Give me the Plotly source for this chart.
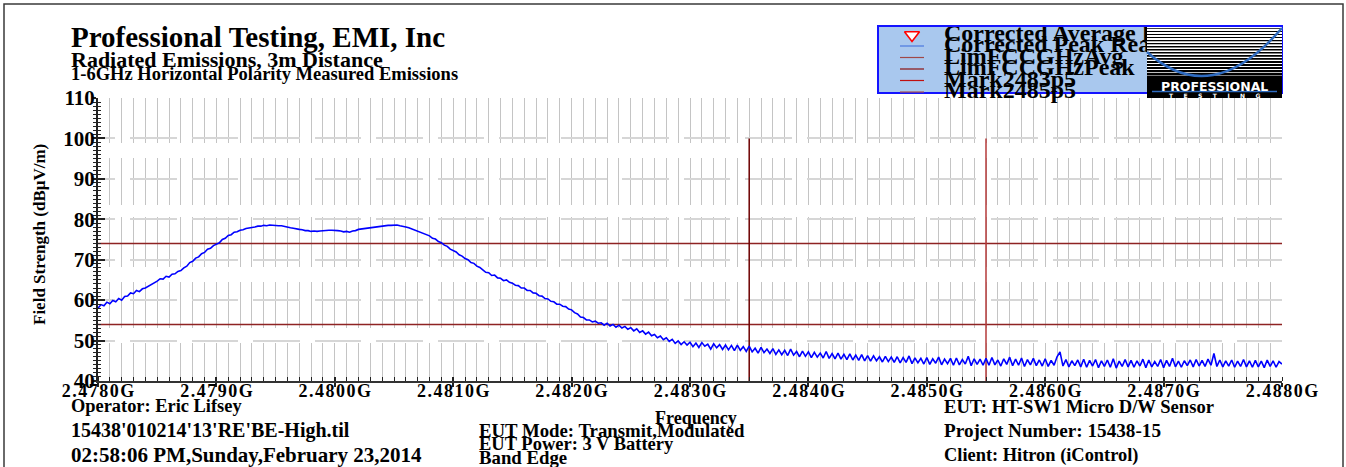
import plotly.graph_objects as go

W, H = 1346, 467

# ---- measured sweep -------------------------------------------------------
FREQ_START_GHZ = 2.4780
FREQ_STOP_GHZ = 2.4880
PEAK_DBUV = [
    58.0, 58.9, 58.6, 59.5, 59.1, 59.9, 59.6, 60.4, 60.0, 60.9,
    61.0, 61.8, 61.6, 62.4, 62.1, 62.8, 63.0, 63.4, 63.8, 64.3,
    64.7, 65.3, 65.2, 65.9, 65.7, 66.4, 66.5, 67.1, 67.3, 68.0,
    68.4, 69.3, 69.6, 70.4, 70.7, 71.5, 71.8, 72.6, 72.8, 73.5,
    73.8, 74.2, 75.0, 75.3, 76.0, 76.2, 76.8, 76.9, 77.3, 77.4,
    77.7, 77.8, 78.0, 78.1, 78.3, 78.3, 78.5, 78.4, 78.6, 78.5,
    78.5, 78.4, 78.4, 78.2, 78.1, 77.9, 77.8, 77.6, 77.5, 77.4,
    77.2, 77.2, 77.0, 77.1, 77.0, 77.1, 77.2, 77.2, 77.3, 77.3,
    77.3, 77.2, 77.1, 76.9, 77.0, 76.8, 77.1, 77.2, 77.5, 77.6,
    77.7, 77.8, 78.0, 78.0, 78.2, 78.2, 78.3, 78.4, 78.5, 78.5,
    78.5, 78.6, 78.4, 78.3, 78.1, 77.9, 77.6, 77.4, 77.1, 76.8,
    76.6, 76.1, 75.9, 75.3, 75.1, 74.5, 74.2, 73.6, 73.3, 72.6,
    72.2, 71.9, 71.2, 70.9, 70.3, 70.0, 69.3, 69.1, 68.4, 68.1,
    67.5, 66.9, 66.8, 66.1, 66.2, 65.5, 65.4, 64.8, 65.0, 64.4,
    64.2, 63.7, 63.6, 63.0, 63.0, 62.4, 62.4, 61.8, 61.7, 61.1,
    61.0, 60.4, 60.3, 59.7, 59.6, 59.0, 59.0, 58.5, 58.4, 57.8,
    57.6, 56.9, 56.6, 55.8, 55.7, 55.1, 55.1, 54.6, 54.8, 54.3,
    54.4, 53.8, 54.3, 53.6, 54.0, 53.3, 53.8, 53.1, 53.5, 52.8,
    53.2, 52.4, 52.9, 52.0, 52.4, 51.6, 52.1, 51.2, 51.5, 50.7,
    51.1, 50.2, 50.7, 49.8, 50.3, 49.3, 49.9, 49.0, 49.7, 48.9,
    49.6, 48.5, 49.4, 48.3, 49.5, 48.6, 49.1, 47.9, 49.2, 48.2,
    49.0, 47.8, 48.9, 47.7, 48.8, 47.5, 48.9, 47.6, 48.5, 47.3,
    48.6, 47.2, 48.1, 46.9, 48.3, 47.0, 47.9, 46.8, 48.0, 46.6,
    47.7, 46.5, 47.6, 46.3, 47.9, 46.4, 47.3, 46.0, 47.4, 46.1,
    47.2, 45.8, 47.1, 45.9, 46.9, 45.7, 47.3, 45.6, 46.8, 45.5,
    46.9, 45.4, 46.6, 45.3, 46.7, 45.2, 46.4, 45.1, 46.5, 45.0,
    46.3, 44.9, 46.2, 45.0, 46.0, 44.7, 46.1, 44.8, 45.9, 44.6,
    46.0, 44.5, 45.8, 44.6, 46.2, 44.3, 45.7, 44.5, 45.6, 44.2,
    45.8, 44.1, 45.5, 44.4, 45.9, 44.0, 45.4, 44.3, 45.6, 43.9,
    45.7, 44.0, 45.3, 44.2, 46.1, 43.8, 45.5, 44.1, 45.4, 43.9,
    45.6, 43.9, 45.8, 44.0, 45.2, 43.7, 45.5, 44.1, 45.9, 43.8,
    45.4, 43.9, 45.7, 43.6, 45.3, 44.0, 45.6, 43.8, 45.2, 43.7,
    45.5, 43.6, 45.1, 43.9, 46.0, 47.2, 43.7, 45.3, 43.5, 45.0,
    43.8, 45.2, 43.5, 45.4, 43.4, 45.1, 43.7, 45.3, 43.3, 45.0,
    43.6, 45.2, 43.4, 45.5, 43.2, 44.9, 43.6, 45.3, 43.5, 45.1,
    43.4, 45.0, 43.7, 45.4, 43.3, 45.2, 43.5, 44.8, 43.6, 45.3,
    43.3, 45.1, 43.6, 45.6, 43.5, 44.9, 43.4, 45.0, 43.8, 45.2,
    43.5, 45.3, 43.7, 45.1, 43.6, 45.4, 43.9, 46.8, 43.6, 45.2,
    43.5, 45.0, 43.7, 45.2, 43.4, 44.9, 43.6, 45.3, 43.5, 45.0,
    43.4, 45.1, 43.5, 44.9, 43.3, 45.2, 43.6, 45.0, 43.4, 44.8,
    44.2,
]

LIMIT_NAMES = ["LimFCCGHzAvg", "LimFCCGHzPeak"]
LIMIT_LEVELS = [54, 74]
LIMIT_COLORS = ["#8e2323", "#8e2323"]

MARKER_NAMES = ["Mark2483p5", "Mark2485p5"]
MARKER_FREQS = [2.4835, 2.4855]
MARKER_TOP = 100
MARKER_COLORS = ["#6e0000", "#b53a3a"]

SERIES_NAMES = ["Corrected Average Readings", "Corrected Peak Readings"]

X_TICKS = [2.4780, 2.4790, 2.4800, 2.4810, 2.4820, 2.4830,
           2.4840, 2.4850, 2.4860, 2.4870, 2.4880]
X_TICK_TEXT = ["2.4780G", "2.4790G", "2.4800G", "2.4810G", "2.4820G", "2.4830G",
               "2.4840G", "2.4850G", "2.4860G", "2.4870G", "2.4880G"]
Y_TICKS = [40, 50, 60, 70, 80, 90, 100, 110]

Y_MIN, Y_MAX = 40, 110

# ---- page geometry (pixels) ----------------------------------------------
PLOT_L, PLOT_R, PLOT_T, PLOT_B = 98, 1282, 98, 381
SERIF = "Liberation Serif"


def px(x):
    return x / W


def py(y):
    return 1 - y / H


n = len(PEAK_DBUV)
freqs = [FREQ_START_GHZ + (FREQ_STOP_GHZ - FREQ_START_GHZ) * i / (n - 1) for i in range(n)]

fig = go.Figure()

# limit lines
for name, lvl, col in zip(LIMIT_NAMES, LIMIT_LEVELS, LIMIT_COLORS):
    fig.add_trace(go.Scatter(x=[FREQ_START_GHZ, FREQ_STOP_GHZ], y=[lvl, lvl], mode="lines",
                             line=dict(color=col, width=1.5), name=name, hoverinfo="skip"))

# marker lines
for name, f, col in zip(MARKER_NAMES, MARKER_FREQS, MARKER_COLORS):
    fig.add_trace(go.Scatter(x=[f, f], y=[MARKER_TOP, Y_MIN], mode="lines",
                             line=dict(color=col, width=1.5), name=name, hoverinfo="skip"))

# peak sweep
fig.add_trace(go.Scatter(x=freqs, y=PEAK_DBUV, mode="lines", name=SERIES_NAMES[1],
                         line=dict(color="#0000ff", width=1.6)))

# second axis pair carries the inward ticks
fig.add_trace(go.Scatter(x=[FREQ_START_GHZ], y=[Y_MIN], xaxis="x2", yaxis="y2", mode="markers",
                         marker=dict(opacity=0), hoverinfo="skip", showlegend=False))

# ---- legend block (own clipped subplot) ---------------------------------
LEG_ROWS = [35, 46, 57.5, 69, 80.5, 92]
LEG_SYMBOL_X = 912
LEG_TEXT_X = 944
legend_names = SERIES_NAMES + LIMIT_NAMES + MARKER_NAMES
legend_line_colors = [None, "#4a78e0", "#a04848", "#8b1010", "#c01010", "#a85050"]

fig.add_trace(go.Scatter(x=[LEG_SYMBOL_X], y=[LEG_ROWS[0]], xaxis="x3", yaxis="y3", mode="markers",
                         marker=dict(symbol="triangle-down", size=13, color="white",
                                     line=dict(color="#ff0000", width=1.6)),
                         hoverinfo="skip", cliponaxis=False))
for row, col in zip(LEG_ROWS[1:], legend_line_colors[1:]):
    fig.add_trace(go.Scatter(x=[LEG_SYMBOL_X - 12, LEG_SYMBOL_X + 12], y=[row, row], xaxis="x3", yaxis="y3",
                             mode="lines", line=dict(color=col, width=1.2), hoverinfo="skip"))
fig.add_trace(go.Scatter(x=[LEG_TEXT_X] * len(legend_names), y=LEG_ROWS, xaxis="x3", yaxis="y3",
                         mode="text", text=legend_names, textposition="middle right",
                         textfont=dict(family=SERIF, size=24, color="black", weight="bold"),
                         cliponaxis=True, hoverinfo="skip"))

# ---- axes ------------------------------------------------------------------
VDASH = "45px,15px,47px,12px,50px,15px,46px,15px,60px,1px"
HDASH = "17px,15px," + ",".join(["46.5px,15px"] * 20)
HS = "\u200a"

fig.update_layout(
    width=W, height=H, autosize=False,
    margin=dict(l=0, r=0, t=0, b=0, pad=0, autoexpand=False),
    paper_bgcolor="white", plot_bgcolor="rgba(0,0,0,0)",
    showlegend=False,
    xaxis=dict(
        domain=[px(PLOT_L), px(PLOT_R)], range=[FREQ_START_GHZ, FREQ_STOP_GHZ], anchor="y",
        tickmode="array", tickvals=X_TICKS, ticktext=[HS.join(t) for t in X_TICK_TEXT],
        tickfont=dict(family=SERIF, size=18, color="black", weight="bold"),
        ticklabelstandoff=-12,
        ticks="outside", ticklen=4, tickwidth=1.5, tickcolor="#222",
        showline=True, linecolor="#333", linewidth=2, zeroline=False,
        showgrid=True, gridcolor="#c4c4c4", gridwidth=1, griddash=VDASH,
        minor=dict(tickmode="linear", tick0=FREQ_START_GHZ, dtick=0.0001, ticks="inside", ticklen=4,
                   tickwidth=1, tickcolor="#222", showgrid=True, gridcolor="#c4c4c4",
                   gridwidth=1, griddash=VDASH),
    ),
    yaxis=dict(
        domain=[py(PLOT_B), py(PLOT_T)], range=[Y_MIN, Y_MAX], anchor="x",
        tickmode="array", tickvals=Y_TICKS,
        tickfont=dict(family=SERIF, size=21, color="black", weight="bold"),
        ticklabelstandoff=-6,
        ticks="outside", ticklen=3, tickwidth=1.5, tickcolor="#222",
        showline=True, linecolor="#222", linewidth=2, zeroline=False,
        showgrid=True, gridcolor="#d6d6d6", gridwidth=2, griddash=HDASH,
        minor=dict(tickmode="linear", tick0=Y_MIN, dtick=1, ticks="outside", ticklen=3,
                   tickwidth=1, tickcolor="#222", showgrid=False),
    ),
    xaxis2=dict(overlaying="x", anchor="y", side="bottom", range=[FREQ_START_GHZ, FREQ_STOP_GHZ],
                tickmode="array", tickvals=X_TICKS, ticks="inside", ticklen=4, tickwidth=1.5,
                tickcolor="#222", showticklabels=False, showgrid=False, showline=False, zeroline=False),
    yaxis2=dict(overlaying="y", anchor="x", side="left", range=[Y_MIN, Y_MAX],
                tickmode="array", tickvals=Y_TICKS, ticks="inside", ticklen=7, tickwidth=1.5,
                tickcolor="#222", showticklabels=False, showgrid=False, showline=False, zeroline=False,
                minor=dict(tickmode="linear", tick0=Y_MIN, dtick=1, ticks="inside", ticklen=3,
                           tickwidth=1, tickcolor="#222", showgrid=False)),
    xaxis3=dict(domain=[px(878), px(1147)], range=[878, 1147], anchor="y3", visible=False),
    yaxis3=dict(domain=[py(110), py(27)], range=[110, 27], anchor="x3", visible=False),
)

# ---- shapes: page frame, legend box, logo ---------------------------------
shapes = [
    dict(type="rect", xref="paper", yref="paper", x0=px(4), x1=px(1343), y0=py(500), y1=py(4),
         line=dict(color="#3a3a3a", width=1.5), fillcolor="rgba(0,0,0,0)", layer="above"),
    dict(type="rect", xref="paper", yref="paper", x0=px(878), x1=px(1282), y0=py(93), y1=py(26),
         line=dict(color="#1414ff", width=2), fillcolor="#a9c8ee", layer="below"),
    # logo
    dict(type="rect", xref="paper", yref="paper", x0=px(1147), x1=px(1282), y0=py(98), y1=py(27),
         line=dict(width=0), fillcolor="white", layer="above"),
]
stripe_tops = [28, 31, 34, 37, 40, 43, 46, 49, 52, 55, 58, 61, 64, 67, 70, 73]
stripe_h = [0.8, 0.9, 1.0, 1.1, 1.2, 1.3, 1.4, 1.5, 1.6, 1.7, 1.8, 1.9, 2.0, 2.1, 2.2, 2.4]
for t, h in zip(stripe_tops, stripe_h):
    shapes.append(dict(type="rect", xref="paper", yref="paper", x0=px(1147), x1=px(1282),
                       y0=py(t + h), y1=py(t), line=dict(width=0), fillcolor="black", layer="above"))
shapes.append(dict(type="rect", xref="paper", yref="paper", x0=px(1147), x1=px(1282),
                   y0=py(98), y1=py(76), line=dict(width=0), fillcolor="black", layer="above"))
shapes.append(dict(type="path", xref="paper", yref="paper",
                   path=f"M {px(1147)},{py(52)} Q {px(1211.5)},{py(110)} {px(1282)},{py(28)}",
                   line=dict(color="#2f6bc0", width=2.5), layer="above"))
shapes.append(dict(type="line", xref="paper", yref="paper", x0=px(1152), x1=px(1277),
                   y0=py(91.5), y1=py(91.5), line=dict(color="#2f6bc0", width=1.5), layer="above"))
fig.update_layout(shapes=shapes)

# ---- text ------------------------------------------------------------------
def note(text, x, baseline, size, anchor="left", color="black", family=SERIF, angle=0):
    fig.add_annotation(text=text, xref="paper", yref="paper", x=px(x - 3), y=py(baseline - 0.34 * size),
                       xanchor=anchor, yanchor="middle", showarrow=False, textangle=angle,
                       font=dict(family=family, size=size, color=color, weight="bold"))


note("Professional Testing, EMI, Inc", 72, 47, 29)
note("Radiated Emissions, 3m Distance", 72, 66.5, 22)
note("1-6GHz Horizontal Polarity Measured Emissions", 72, 80, 18.5)

fig.add_annotation(text="Field Strength (dBμV/m)", xref="paper", yref="paper", x=px(39), y=py(235),
                   xanchor="center", yanchor="middle", showarrow=False, textangle=-90,
                   font=dict(family=SERIF, size=17, color="black", weight="bold"))

note("Operator: Eric Lifsey", 72, 412, 18.4)
note("15438'010214'13'RE'BE-High.til", 72, 437, 20)
note("02:58:06 PM,Sunday,February 23,2014", 72, 462, 21)
note("Frequency", 656, 424, 18)
note("EUT Mode: Transmit,Modulated", 480, 437, 18.8)
note("EUT Power: 3 V Battery", 480, 450, 18.5)
note("Band Edge", 480, 464, 18.8)
note("EUT: HT-SW1 Micro D/W Sensor", 945, 413, 18.6)
note("Project Number: 15438-15", 945, 437, 19.2)
note("Client: Hitron (iControl)", 945, 462, 18.4)

fig.add_annotation(text="PROFESSIONAL", xref="paper", yref="paper", x=px(1214.5), y=py(86.5),
                   xanchor="center", yanchor="middle", showarrow=False,
                   font=dict(family="DejaVu Sans", size=12.5, color="white", weight="bold"))
fig.add_annotation(text="T     E     S     T     I     N     G", xref="paper", yref="paper", x=px(1214.5),
                   y=py(95.5), xanchor="center", yanchor="middle", showarrow=False,
                   font=dict(family="DejaVu Sans", size=6, color="white", weight="bold"))

fig.write_html(
    "out.html",
    post_script="document.body.style.margin='0';document.body.style.overflow='hidden';",
)
